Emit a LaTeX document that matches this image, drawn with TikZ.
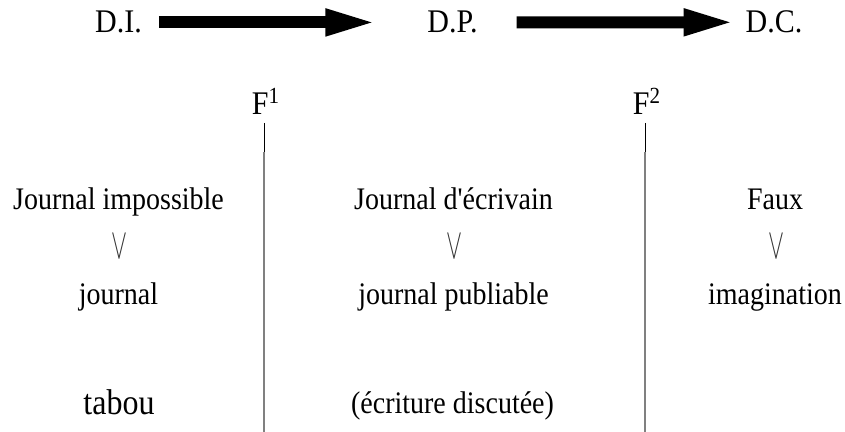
\documentclass[tikz,border=0pt]{standalone}
\usepackage{fontspec}
\setmainfont{Liberation Serif}
\usetikzlibrary{arrows.meta}

\begin{document}
\begin{tikzpicture}[x=0.5pt, y=-0.5pt,
    lbl/.style={font=\fontsize{14}{16}\selectfont, anchor=base, yscale=1.12},
    head/.style={font=\fontsize{15}{17}\selectfont, anchor=base, yscale=1.1},
    vee/.style={font=\fontsize{12}{14}\selectfont, text=black!80, yscale=1.8},
    big/.style={line width=6pt, -{Triangle[length=26.5pt, width=12pt]}}]
    \useasboundingbox (0, 0) rectangle (845, 432);
    % degrees
    \node[head] (DI) at (118.5, 33){D.I.};
    \node[head] (DP) at (452.5, 33){D.P.};
    \node[head] (DC) at (774, 33){D.C.};
    \draw[big, shorten <=5pt, shorten >=21pt] (DI.east) -- (DP.west);
    \draw[big, shorten <=16pt, shorten >=1pt] (DP.east) -- (DC.west);
    % frontiers
    \node[head] (F1) at (266, 115){F\textsuperscript{1}};
    \node[head] (F2) at (647, 115){F\textsuperscript{2}};
    \draw[black] (264, 123) -- (264, 172);
    \draw[black!50, line width=1pt] (263.5, 152) -- (263.5, 432);
    \draw[black] (645, 123) -- (645, 172);
    \draw[black!50, line width=1pt] (644.5, 152) -- (644.5, 432);
    % columns
    \node[lbl] (J1) at (118.5, 210){Journal impossible};
    \node[lbl] (J2) at (453.5, 210){Journal d\textquotesingle écrivain};
    \node[lbl] (J3) at (775, 210){Faux};
    \node[vee] (V1) at (119, 247){$\vee$};
    \node[vee] (V2) at (454, 247){$\vee$};
    \node[vee] (V3) at (776, 247){$\vee$};
    \node[lbl] (K1) at (118.5, 305){journal};
    \node[lbl] (K2) at (453.5, 305){journal publiable};
    \node[lbl] (K3) at (775, 305){imagination};
    \node[lbl, font=\fontsize{16}{18}\selectfont] (T1) at (119, 415){tabou};
    \node[lbl] (T2) at (452.5, 413){(écriture discutée)};
\end{tikzpicture}
\end{document}
